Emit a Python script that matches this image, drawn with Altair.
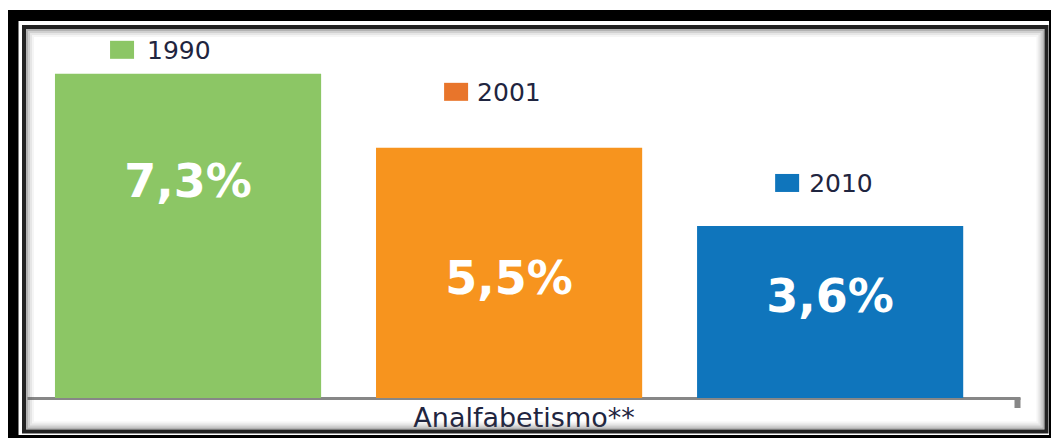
import altair as alt
import pandas as pd

# ---- data ----
years = ["1990", "2001", "2010"]
values = [7.3, 5.5, 3.6]
labels = ["7,3%", "5,5%", "3,6%"]
bar_colors = ["#8CC665", "#F7941E", "#0F75BC"]
legend_colors = ["#8CC665", "#E8752B", "#0F75BC"]
category_title = "Analfabetismo**"

# ---- layout / style ----
W, H = 993, 369
Y_MIN, Y_MAX = -0.584, 8.39
PAD = {"left": 19, "top": 21, "right": 31, "bottom": 40}
TEXT_COLOR = "#1F2540"
FONT = "DejaVu Sans"

# per-category label offsets (pixels)
label_dy = {"1990": 109, "2001": 132, "2010": 72}
legend_sq_dx = {"1990": -66, "2001": -53, "2010": -43}
legend_txt_dx = {"1990": -41, "2001": -32, "2010": -21}
legend_dy = {"1990": -24, "2001": -56, "2010": -43}

df = pd.DataFrame({"year": years, "value": values, "label": labels})
one = pd.DataFrame({"a": [1]})

x = alt.X(
    "year:N",
    sort=years,
    scale=alt.Scale(paddingInner=0.171, paddingOuter=0.132, align=0.33),
    axis=alt.Axis(
        labels=False, ticks=False, domainColor="#878787", domainWidth=3,
        title=category_title, titleFontSize=27, titleFont=FONT,
        titleFontWeight="normal", titleColor=TEXT_COLOR, titlePadding=7,
    ),
)
y = alt.Y("value:Q", scale=alt.Scale(domain=[Y_MIN, Y_MAX], nice=False, zero=False), axis=None)
color = alt.Color("year:N", scale=alt.Scale(domain=years, range=bar_colors), legend=None)


def frame(x1, x2, y1, y2, sw, col, op=1.0):
    return alt.Chart(one).mark_rect(
        fillOpacity=0, stroke=col, strokeWidth=sw, strokeOpacity=op
    ).encode(x=alt.value(x1), x2=alt.value(x2), y=alt.value(y1), y2=alt.value(y2))


layers = []
# outer black frame
layers.append(frame(-14, 1027.5, -13.5, 411.5, 11, "black"))
# inner shadow
for inset, op in [(1, 0.45), (3, 0.28), (5, 0.15), (7, 0.06)]:
    layers.append(frame(-1 + inset, 1017.5 - inset, 0 + inset, 400.5 - inset, 2, "#555555", op))
# inner dark frame
layers.append(frame(-3, 1019.5, -2, 402.5, 4, "#222222"))

bars = alt.Chart(df).mark_bar().encode(
    x=x, y=y, y2=alt.Y2(datum=Y_MIN), color=color
)
layers.append(bars)

# right end tick of the baseline
layers.append(
    alt.Chart(one).mark_rule(color="#878787", strokeWidth=6).encode(
        x=alt.value(990.5), y=alt.value(H), y2=alt.value(H + 10)
    )
)

for yr, lc in zip(years, legend_colors):
    base = alt.Chart(df).transform_filter(alt.datum.year == yr)
    # value label inside bar
    layers.append(
        base.mark_text(
            font=FONT, fontSize=46, fontWeight="bold", color="white",
            baseline="middle", align="center", dy=label_dy[yr],
        ).encode(x=x, y=y, text="label:N")
    )
    # legend square (custom path, offset built in; scale = sqrt(size)/2 = 10px)
    cx = legend_sq_dx[yr] / 10.0
    cy = legend_dy[yr] / 10.0
    path = (
        f"M{cx-1.2:.2f},{cy-0.9:.2f}L{cx+1.2:.2f},{cy-0.9:.2f}"
        f"L{cx+1.2:.2f},{cy+0.9:.2f}L{cx-1.2:.2f},{cy+0.9:.2f}Z"
    )
    layers.append(
        base.mark_point(shape=path, size=400, filled=True, opacity=1, color=lc, strokeWidth=0)
        .encode(x=x, y=y)
    )
    # legend text
    layers.append(
        base.mark_text(
            font=FONT, fontSize=25, color=TEXT_COLOR, align="left",
            baseline="middle", dx=legend_txt_dx[yr], dy=legend_dy[yr] + 1,
        ).encode(x=x, y=y, text="year:N")
    )

chart = (
    alt.layer(*layers)
    .properties(
        width=W, height=H,
        autosize=alt.AutoSizeParams(type="none"),
        padding=PAD, background="white",
    )
    .configure_view(stroke=None)
)

chart.save("out.html", embed_options={"renderer": "svg", "actions": False})
